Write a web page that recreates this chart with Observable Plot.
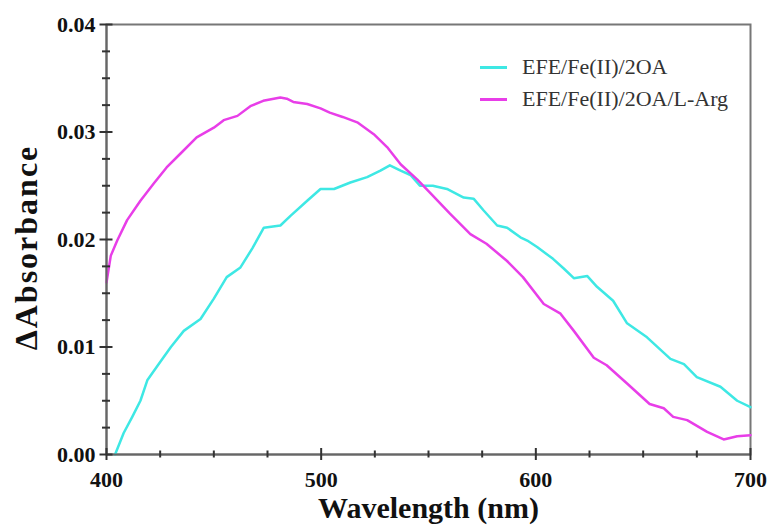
<!DOCTYPE html>
<html>
<head>
<meta charset="utf-8">
<script src="https://cdn.jsdelivr.net/npm/d3@7"></script>
<script src="https://cdn.jsdelivr.net/npm/@observablehq/plot@0.6"></script>
<style>
  html, body { margin: 0; padding: 0; background: #fff; }
  #wrap { position: relative; width: 771px; height: 529px; }
  #chart svg { font-family: "Liberation Serif", "Times New Roman", serif; }
  #legend { position: absolute; left: 480px; top: 51px; }
  .row { display: flex; align-items: center; height: 32px; }
  .sw { width: 27px; height: 3px; margin-right: 15px; }
  .lbl { font-family: "Liberation Serif", "Times New Roman", serif; font-size: 22px; color: #333; }
</style>
</head>
<body>
<div id="wrap">
  <div id="chart"></div>
  <div id="legend"></div>
</div>
<script>
// Series 1: EFE/Fe(II)/2OA (cyan)
const wl1 = [404, 408, 412, 415.8, 419, 425, 430, 436, 443.8, 450, 456, 462.4, 468, 473.3, 481, 485.7, 493.5, 499.7, 506, 513.6, 521.4, 527.6, 532, 537, 541.6, 546, 552, 558.6, 566.4, 571, 575.7, 582, 586.6, 592.8, 596, 600.6, 608, 613, 617.7, 624, 628.5, 636, 642.5, 651.8, 662.7, 669, 675, 686, 693.8, 700];
const abs1 = [0, 0.002, 0.0035, 0.005, 0.0069, 0.0086, 0.0100, 0.0115, 0.0126, 0.0145, 0.0165, 0.0174, 0.0192, 0.0211, 0.0213, 0.0222, 0.0236, 0.0247, 0.0247, 0.0253, 0.0258, 0.0264, 0.0269, 0.0264, 0.0260, 0.0250, 0.0250, 0.0247, 0.0239, 0.0238, 0.0227, 0.0213, 0.0211, 0.0202, 0.0199, 0.0193, 0.0182, 0.0173, 0.0164, 0.0166, 0.0156, 0.0143, 0.0122, 0.0109, 0.0089, 0.0084, 0.0072, 0.0063, 0.0050, 0.0044];
// Series 2: EFE/Fe(II)/2OA/L-Arg (magenta)
const wl2 = [400, 402, 405, 409.6, 415.8, 422, 428, 434.5, 442, 450, 454.6, 461, 467, 473, 481, 484, 487, 493.5, 499.7, 504, 510, 516.8, 524.5, 530.7, 537, 544.7, 551, 560, 569.5, 577, 586.6, 594, 603.7, 611.5, 617.7, 627, 633, 642.5, 653, 659.6, 664, 670.5, 679.8, 687.5, 693.8, 700];
const abs2 = [0.0160, 0.0185, 0.0199, 0.0218, 0.0236, 0.0252, 0.0267, 0.0280, 0.0295, 0.0304, 0.0311, 0.0315, 0.0324, 0.0329, 0.0332, 0.0331, 0.0328, 0.0326, 0.0322, 0.0318, 0.0314, 0.0309, 0.0298, 0.0286, 0.0270, 0.0256, 0.0243, 0.0224, 0.0205, 0.0196, 0.0180, 0.0165, 0.0140, 0.0131, 0.0115, 0.0090, 0.0083, 0.0066, 0.0047, 0.0043, 0.0035, 0.0032, 0.0021, 0.0014, 0.0017, 0.0018];

const seriesNames = ["EFE/Fe(II)/2OA", "EFE/Fe(II)/2OA/L-Arg"];
const seriesColors = ["#3ee8e4", "#e83ee8"];

const xMajor = [400, 500, 600, 700];
const xMinor = [425, 450, 475, 525, 550, 575, 625, 650, 675];
const yMajor = [0, 0.01, 0.02, 0.03, 0.04];
const yMinor = [0.0025, 0.005, 0.0075, 0.0125, 0.015, 0.0175, 0.0225, 0.025, 0.0275, 0.0325, 0.035, 0.0375];

const data1 = wl1.map((w, i) => ({w, a: abs1[i]}));
const data2 = wl2.map((w, i) => ({w, a: abs2[i]}));

const axisColor = "#333";
const xLo = xMajor[0], yLo = yMajor[0];

const chart = Plot.plot({
  width: 771,
  height: 529,
  marginLeft: 106,
  marginRight: 21,
  marginTop: 24,
  marginBottom: 75,
  x: { domain: [400, 700] },
  y: { domain: [0, 0.04] },
  marks: [
    Plot.frame({ stroke: "#777", strokeWidth: 2 }),
    Plot.line(data1, { x: "w", y: "a", stroke: seriesColors[0], strokeWidth: 2.5 }),
    Plot.line(data2, { x: "w", y: "a", stroke: seriesColors[1], strokeWidth: 2.5 }),
    Plot.ruleY([yLo], { stroke: "#666", strokeWidth: 2 }),
    Plot.ruleX([xLo], { stroke: "#666", strokeWidth: 2 }),
    // crossing ticks on the x axis
    Plot.ruleX(xMajor, { x: d => d, y1: () => yLo, y2: () => yLo, insetTop: -6, insetBottom: -6, stroke: axisColor, strokeWidth: 2 }),
    Plot.ruleX(xMinor, { x: d => d, y1: () => yLo, y2: () => yLo, insetTop: -3.5, insetBottom: -3.5, stroke: axisColor, strokeWidth: 2 }),
    // crossing ticks on the y axis
    Plot.ruleY(yMajor, { y: d => d, x1: () => xLo, x2: () => xLo, insetLeft: -6.5, insetRight: -6.5, stroke: axisColor, strokeWidth: 2 }),
    Plot.ruleY(yMinor, { y: d => d, x1: () => xLo, x2: () => xLo, insetLeft: -4, insetRight: -4, stroke: axisColor, strokeWidth: 2 }),
    Plot.axisX({ ticks: xMajor, tickSize: 0, tickPadding: 17, tickFormat: d => String(d), fontSize: 22, fontWeight: "bold", fill: "#111", label: null }),
    Plot.axisY({ ticks: yMajor, tickSize: 0, tickPadding: 11, tickFormat: d => d3.format(".2f")(d), fontSize: 22, fontWeight: "bold", fill: "#111", label: null }),
    Plot.text(["Wavelength (nm)"], { frameAnchor: "bottom", textAnchor: "middle", dy: 63, fontSize: 30, fontWeight: "bold", fill: "#111" }),
    Plot.text(["\u0394Absorbance"], { frameAnchor: "left", textAnchor: "middle", rotate: -90, dx: -80, dy: 8, fontSize: 32, fontWeight: "bold", fill: "#111" })
  ]
});
document.getElementById("chart").appendChild(chart);
chart.querySelectorAll("text").forEach(t => { if (t.textContent === "\u0394Absorbance") t.setAttribute("letter-spacing", "2"); });

const legend = document.getElementById("legend");
seriesNames.forEach((name, i) => {
  const row = document.createElement("div");
  row.className = "row";
  const sw = document.createElement("div");
  sw.className = "sw";
  sw.style.background = seriesColors[i];
  const t = document.createElement("span");
  t.className = "lbl";
  t.textContent = name;
  row.appendChild(sw);
  row.appendChild(t);
  legend.appendChild(row);
});
</script>
</body>
</html>
